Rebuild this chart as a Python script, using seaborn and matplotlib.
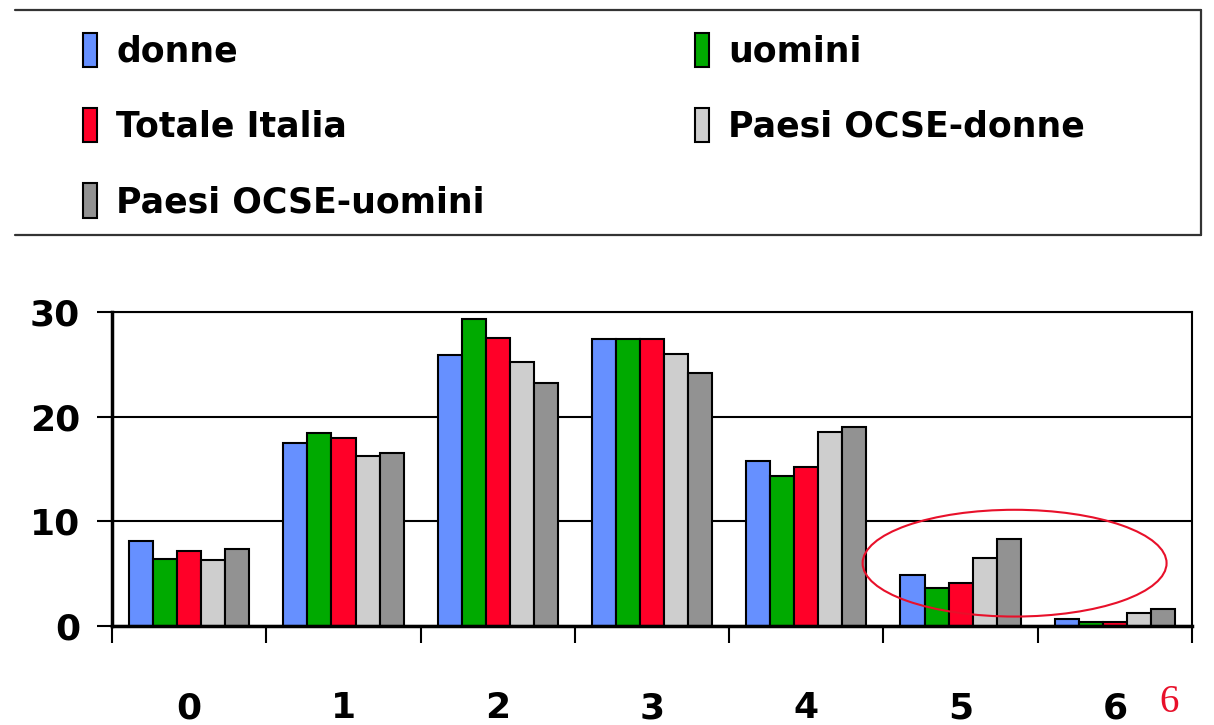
import pandas as pd
import matplotlib
matplotlib.use('Agg')
import matplotlib.pyplot as plt
from matplotlib.patches import Ellipse
from matplotlib.lines import Line2D
import seaborn as sns

categorie = ['0', '1', '2', '3', '4', '5', '6']
serie = ['donne', 'uomini', 'Totale Italia', 'Paesi OCSE-donne', 'Paesi OCSE-uomini']
donne = [8.1, 17.5, 25.9, 27.4, 15.8, 4.9, 0.7]
uomini = [6.4, 18.4, 29.3, 27.4, 14.3, 3.6, 0.35]
totale_italia = [7.2, 18.0, 27.5, 27.4, 15.2, 4.1, 0.35]
ocse_donne = [6.3, 16.2, 25.2, 26.0, 18.5, 6.5, 1.2]
ocse_uomini = [7.4, 16.5, 23.2, 24.2, 19.0, 8.3, 1.65]
colori = ['#6690FF', '#00AA00', '#FF0028', '#CECECE', '#929292']

valori = [donne, uomini, totale_italia, ocse_donne, ocse_uomini]
rows = []
for nome, vals in zip(serie, valori):
    for c, v in zip(categorie, vals):
        rows.append({'livello': c, 'valore': v, 'gruppo': nome})
df = pd.DataFrame(rows)

sns.set_style('white')
plt.rcParams['font.family'] = ['DejaVu Sans']
plt.rcParams['font.weight'] = 'bold'
plt.rcParams['text.color'] = 'black'
plt.rcParams['xtick.color'] = 'black'
plt.rcParams['ytick.color'] = 'black'

fig = plt.figure(figsize=(12.14, 7.25), dpi=100)
ax = fig.add_axes([0.0923, 0.1366, 0.8896, 0.4331])
sns.barplot(data=df, x='livello', y='valore', hue='gruppo', order=categorie,
            hue_order=serie, palette=colori, saturation=1, edgecolor='black',
            linewidth=1.5, width=0.78, ax=ax, legend=True)

ax.set_xlim(-0.5, 6.5)
ax.set_ylim(0, 30)
ax.set_yticks([0, 10, 20, 30])
ax.set_yticklabels(['0', '10', '20', '30'], fontsize=26, fontweight='bold')
ax.yaxis.grid(True, color='black', linewidth=1.5)
ax.set_axisbelow(True)
ax.tick_params(axis='y', direction='out', length=11, width=1.5, pad=12, left=True)

ax.set_xticks([i - 0.5 for i in range(8)])
ax.set_xticklabels([])
ax.set_xticks(range(7), minor=True)
ax.set_xticklabels(categorie, minor=True, fontsize=26, fontweight='bold')
ax.tick_params(axis='x', which='major', direction='out', length=12, width=1.5, bottom=True)
ax.tick_params(axis='x', which='minor', length=0, pad=47)
ax.set_xlabel('')
ax.set_ylabel('')
for s in ax.spines.values():
    s.set_visible(True)
    s.set_color('black')
    s.set_linewidth(1.5)
ax.spines['bottom'].set_linewidth(2.5)
ax.spines['left'].set_linewidth(2.5)

ell = Ellipse((5.35, 6.0), 1.97, 10.2, fill=False, edgecolor='#E8102A',
              linewidth=1.5, clip_on=False, zorder=5)
ax.add_patch(ell)

handles, labels = ax.get_legend_handles_labels()
ax.get_legend().remove()
ordine = [0, 2, 4, 1, 3]
leg = fig.legend([handles[i] for i in ordine], [labels[i] for i in ordine],
                 loc='upper left', bbox_to_anchor=(0.068, 0.955),
                 ncol=2, frameon=False,
                 prop={'size': 25, 'weight': 'bold'}, handlelength=0.42,
                 handleheight=1.15, handletextpad=0.55, labelspacing=1.13,
                 columnspacing=6.05, borderpad=0, borderaxespad=0)

# cornice della legenda (lato sinistro non visibile nell'originale)
x0, x1, y0, y1 = 0.0124, 0.989, 0.676, 0.986
for xs, ys in [([x0, x1], [y1, y1]), ([x1, x1], [y0, y1]), ([x0, x1], [y0, y0])]:
    fig.add_artist(Line2D(xs, ys, color='#333333', linewidth=1.6,
                          transform=fig.transFigure))

fig.text(0.955, 0.018, '6', color='#E8102A', fontsize=28,
         family=['Liberation Serif', 'DejaVu Serif'], fontweight='normal')

fig.savefig('out.png', dpi=100)
